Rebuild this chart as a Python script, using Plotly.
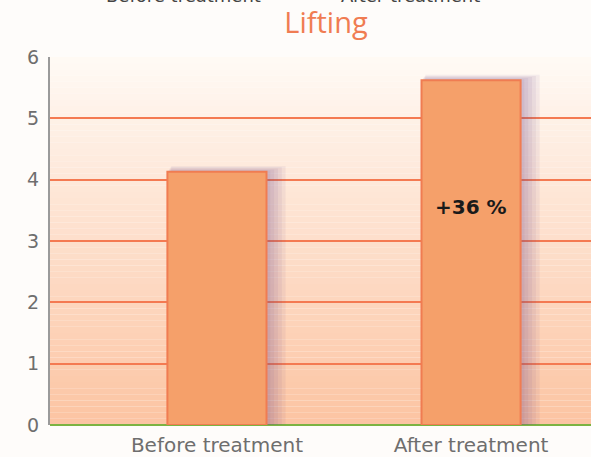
import plotly.graph_objects as go

categories = ["Before treatment", "After treatment"]
values = [4.13, 5.62]
y_ticks = [0, 1, 2, 3, 4, 5, 6]
title_text = "Lifting"

W, H = 591, 457
ML, MR, MT, MB = 50, 0, 57, 32

x_pos = list(range(len(categories)))
bar_w = 0.39
change = round((values[1] / values[0] - 1) * 100)

fig = go.Figure()

# soft shadow behind each bar, built up from a few translucent layers
for i in range(1, 6):
    fig.add_trace(go.Bar(
        x=x_pos, y=[v + 0.018 * i for v in values],
        width=bar_w + 0.012 * i,
        offset=-bar_w / 2 + 0.003 * i,
        marker=dict(color="rgba(120,80,140,0.08)", line=dict(width=0)),
        hoverinfo="skip", showlegend=False,
    ))

fig.add_trace(go.Bar(
    x=x_pos, y=values, width=bar_w,
    marker=dict(color="#f5a06a", line=dict(color="#f07c52", width=2)),
    showlegend=False,
))

fig.add_annotation(
    x=x_pos[1], y=values[1] * 0.633, xref="x", yref="y",
    text=f"<b>+{change} %</b>", showarrow=False,
    font=dict(family="DejaVu Sans", size=20, color="#1a1a1a"),
)

# vertical background gradient inside the plot area
n = 60
top = (255, 250, 245)
bot = (252, 196, 162)
shapes = []
for k in range(n):
    t = (k + 0.5) / n
    c = tuple(round(top[j] + (bot[j] - top[j]) * t) for j in range(3))
    shapes.append(dict(
        type="rect", xref="x domain", yref="y domain",
        x0=0, x1=1, y0=1 - (k + 1) / n, y1=1 - k / n,
        fillcolor=f"rgb{c}", line=dict(width=0), layer="below",
    ))

# legend text above the title, running off the top of the page
for lbl, px in zip(categories, [183, 410]):
    fig.add_annotation(
        x=(px - ML) / (W - ML - MR), y=(H - MB + 5) / (H - MT - MB),
        xref="paper", yref="paper", text=lbl, showarrow=False,
        xanchor="center", yanchor="middle",
        font=dict(family="DejaVu Sans", size=18, color="#444444"),
    )

fig.update_layout(
    width=W, height=H,
    margin=dict(l=ML, r=MR, t=MT, b=MB),
    paper_bgcolor="#fefcfa",
    plot_bgcolor="rgba(0,0,0,0)",
    barmode="overlay",
    shapes=shapes,
    title=dict(text=title_text, x=326 / W, xanchor="center", y=1 - 23 / H, yanchor="middle",
               font=dict(family="Open Sans", size=29, color="#f07c52")),
    xaxis=dict(
        range=[-0.657, 1.472], tickvals=x_pos, ticktext=categories,
        showgrid=False, zeroline=False, showline=False, ticks="",
        tickfont=dict(family="DejaVu Sans", size=20, color="#6e6e6e"),
        ticklabelstandoff=6,
    ),
    yaxis=dict(
        range=[0, 6], tickvals=y_ticks, ticks="",
        showgrid=True, gridcolor="#f47a52", gridwidth=2,
        zeroline=True, zerolinecolor="#7cb342", zerolinewidth=2,
        showline=True, linecolor="#9a9a9a", linewidth=2,
        tickfont=dict(family="DejaVu Sans", size=19, color="#6e6e6e"),
        ticklabelstandoff=5,
    ),
)

fig.write_html("out.html")
